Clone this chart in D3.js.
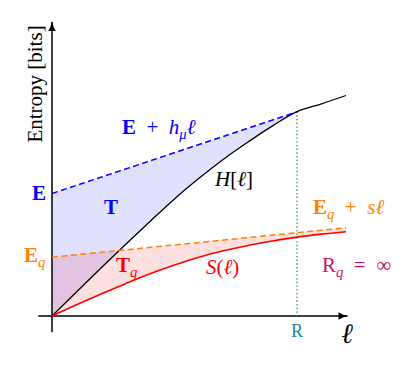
<!DOCTYPE html>
<html>
<head>
<meta charset="utf-8">
<script src="https://cdn.jsdelivr.net/npm/d3@7"></script>
<style>
body { margin: 0; background: #fff; }
text { font-family: "Liberation Serif", "DejaVu Serif", serif; }
</style>
</head>
<body>
<script>
'use strict';

// block length samples
let ell = [0, 0.5, 1, 1.5, 2, 2.5, 3, 3.5, 4, 4.5, 5, 5.5, 6];
let blockEntropy = [0, 0.49, 0.98, 1.46, 1.93, 2.39, 2.81, 3.20, 3.55, 3.88, 4.17, 4.33, 4.50];
let stateEntropy = [0, 0.23, 0.45, 0.66, 0.86, 1.04, 1.20, 1.33, 1.44, 1.53, 1.61, 1.67, 1.72];

// asymptote parameters
let excessE = 2.5, entropyRate = 0.333;
let excessEq = 1.2, slopeS = 0.1;
let markovOrder = 5;

let width = 415, height = 367;

let svg = d3.select("body").append("svg")
  .attr("width", width)
  .attr("height", height);

let x = d3.scaleLinear().domain([0, 6]).range([52, 346]);
let y = d3.scaleLinear().domain([0, 6]).range([316, 22]);

let blue = "#0000ff", orange = "#ff8000", red = "#ff0000", teal = "#1a8c8c", crimson = "#cc1466";

let pts = ell.map((l, i) => ({ l: l, h: blockEntropy[i], s: stateEntropy[i] }));
let curve = d3.curveCatmullRom.alpha(0.5);

// arrow head
svg.append("defs").append("marker")
  .attr("id", "arrow")
  .attr("markerUnits", "userSpaceOnUse")
  .attr("viewBox", "0 -5 10 10")
  .attr("refX", 9).attr("refY", 0)
  .attr("markerWidth", 10).attr("markerHeight", 10)
  .attr("orient", "auto")
  .append("path")
  .attr("d", "M0,-3.8 Q4,-1 10,0 Q4,1 0,3.8 Z")
  .attr("fill", "#000");

// blue region between E + h_mu l and H[l]
svg.append("path")
  .datum(pts.filter(d => d.l <= markovOrder))
  .attr("d", d3.area()
    .x(d => x(d.l))
    .y0(d => y(d.h))
    .y1(d => y(excessE + entropyRate * d.l))
    .curve(curve))
  .attr("fill", blue)
  .attr("fill-opacity", 0.12);

// red region between Eq + s l and S(l)
svg.append("path")
  .datum(pts)
  .attr("d", d3.area()
    .x(d => x(d.l))
    .y0(d => y(d.s))
    .y1(d => y(excessEq + slopeS * d.l))
    .curve(curve))
  .attr("fill", red)
  .attr("fill-opacity", 0.12);

// axes
svg.append("line")
  .attr("x1", x(-0.28)).attr("y1", y(0))
  .attr("x2", x(6.03)).attr("y2", y(0))
  .attr("stroke", "#000").attr("stroke-width", 1.5)
  .attr("marker-end", "url(#arrow)");
svg.append("line")
  .attr("x1", x(0)).attr("y1", y(-0.33))
  .attr("x2", x(0)).attr("y2", y(6))
  .attr("stroke", "#000").attr("stroke-width", 1.5)
  .attr("marker-end", "url(#arrow)");

// R marker
let hAtR = blockEntropy[ell.indexOf(markovOrder)];
svg.append("line")
  .attr("x1", x(markovOrder)).attr("y1", y(hAtR))
  .attr("x2", x(markovOrder)).attr("y2", y(0))
  .attr("stroke", teal).attr("stroke-width", 1.3)
  .attr("stroke-dasharray", "1.3,2.4");

// H[l] and S(l)
svg.append("path")
  .datum(pts)
  .attr("d", d3.line().x(d => x(d.l)).y(d => y(d.h)).curve(curve))
  .attr("fill", "none").attr("stroke", "#000").attr("stroke-width", 1.3);
svg.append("path")
  .datum(pts)
  .attr("d", d3.line().x(d => x(d.l)).y(d => y(d.s)).curve(curve))
  .attr("fill", "none").attr("stroke", red).attr("stroke-width", 1.6);

// asymptotes
svg.append("line")
  .attr("x1", x(0)).attr("y1", y(excessE))
  .attr("x2", x(markovOrder)).attr("y2", y(excessE + entropyRate * markovOrder))
  .attr("stroke", blue).attr("stroke-width", 1.5)
  .attr("stroke-dasharray", "6,3.5");
svg.append("line")
  .attr("x1", x(0)).attr("y1", y(excessEq))
  .attr("x2", x(6)).attr("y2", y(excessEq + slopeS * 6))
  .attr("stroke", orange).attr("stroke-width", 1.5)
  .attr("stroke-dasharray", "6,3.5");

// math label from parts: [text, style] with style b (bold), i (italic), r (roman), s (italic subscript)
function mathLabel(parts, px, py, color, size, anchor) {
  let t = svg.append("text")
    .attr("x", px).attr("y", py)
    .attr("fill", color)
    .attr("font-size", size)
    .attr("text-anchor", anchor || "start");
  let shift = 0;
  parts.forEach(p => {
    let span = t.append("tspan").text(p[0]);
    if (p[1] === "b") span.attr("font-weight", "bold");
    if (p[1] === "i" || p[1] === "s") span.attr("font-style", "italic");
    if (p[1] === "s") {
      span.attr("font-size", size * 0.7).attr("dy", size * 0.25);
      shift = size * 0.25;
    } else if (shift) {
      span.attr("dy", -shift);
      shift = 0;
    }
  });
  return t;
}

let fs = 21;
let plus = "\u2002+\u2002", equals = "\u2002=\u2002";
mathLabel([["E", "b"], [plus, "r"], ["h", "i"], ["μ", "s"], ["ℓ", "i"]], 122, 134, blue, fs);
mathLabel([["E", "b"]], 46, 200, blue, fs, "end");
mathLabel([["E", "b"], ["q", "s"]], 24, 262, orange, fs);
mathLabel([["T", "b"]], 111, 214, blue, fs, "middle");
mathLabel([["T", "b"], ["q", "s"]], 116, 272, red, fs);
mathLabel([["H", "i"], ["[", "r"], ["ℓ", "i"], ["]", "r"]], 215, 186, "#000", fs);
mathLabel([["S", "i"], ["(", "r"], ["ℓ", "i"], [")", "r"]], 206, 274, red, fs);
mathLabel([["E", "b"], ["q", "s"], [plus, "r"], ["s", "i"], ["ℓ", "i"]], 313, 214, orange, fs);
mathLabel([["R", "r"], ["q", "s"], [equals + "∞", "r"]], 322, 272, crimson, fs);
mathLabel([["R", "r"]], x(markovOrder), 337, teal, 18, "middle");
mathLabel([["ℓ", "i"]], 347, 343, "#000", 28, "middle");

// y axis label
svg.append("text")
  .attr("transform", "translate(42,84) rotate(-90)")
  .attr("text-anchor", "middle")
  .attr("font-size", 21)
  .text("Entropy [bits]");
</script>
</body>
</html>
